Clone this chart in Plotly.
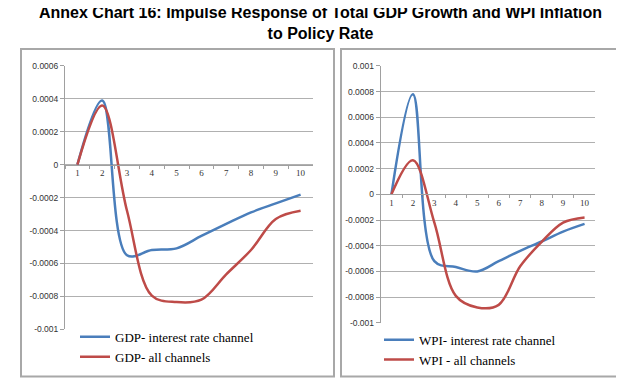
import plotly.graph_objects as go

periods = ["1", "2", "3", "4", "5", "6", "7", "8", "9", "10"]

gdp_interest = [0, 0.00039, -0.00055, -0.000518, -0.000508, -0.000433, -0.00036, -0.00029, -0.000235, -0.000182]
gdp_all = [0, 0.00036, -0.00028, -0.000795, -0.000834, -0.00082, -0.000666, -0.000518, -0.00033, -0.00028]

wpi_interest = [0, 0.00078, -0.00052, -0.000565, -0.0006, -0.00052, -0.00044, -0.000367, -0.00029, -0.00023]
wpi_all = [0, 0.000266, -0.00022, -0.00079, -0.00088, -0.00086, -0.00056, -0.00037, -0.00022, -0.00018]

gdp_yticks = [0.0006, 0.0004, 0.0002, 0, -0.0002, -0.0004, -0.0006, -0.0008, -0.001]
gdp_ylabels = ["0.0006", "0.0004", "0.0002", "0", "-0.0002", "-0.0004", "-0.0006", "-0.0008", "-0.001"]
wpi_yticks = [0.001, 0.0008, 0.0006, 0.0004, 0.0002, 0, -0.0002, -0.0004, -0.0006, -0.0008, -0.001]
wpi_ylabels = ["0.001", "0.0008", "0.0006", "0.0004", "0.0002", "0", "-0.0002", "-0.0004", "-0.0006", "-0.0008", "-0.001"]

title_text = "<b>Annex Chart 16: Impulse Response of Total GDP Growth and WPI Inflation<br>to Policy Rate</b>"

BLUE = "#4a7ebb"
RED = "#be4b48"
W, H = 624, 389

def px(x):
    return x / W

def py(y):
    return 1 - y / H

fig = go.Figure()
fig.add_trace(go.Scatter(x=periods, y=gdp_interest, name="GDP- interest rate channel",
                         mode="lines", line=dict(color=BLUE, width=2.5, shape="spline", smoothing=1),
                         xaxis="x", yaxis="y", legend="legend"))
fig.add_trace(go.Scatter(x=periods, y=gdp_all, name="GDP- all channels",
                         mode="lines", line=dict(color=RED, width=2.5, shape="spline", smoothing=1),
                         xaxis="x", yaxis="y", legend="legend"))
fig.add_trace(go.Scatter(x=periods, y=wpi_interest, name="WPI- interest rate channel",
                         mode="lines", line=dict(color=BLUE, width=2.5, shape="spline", smoothing=1),
                         xaxis="x2", yaxis="y2", legend="legend2"))
fig.add_trace(go.Scatter(x=periods, y=wpi_all, name="WPI - all channels",
                         mode="lines", line=dict(color=RED, width=2.5, shape="spline", smoothing=1),
                         xaxis="x2", yaxis="y2", legend="legend2"))

# Domains
ly0, ly1 = py(324.7), py(54.3)
ry0, ry1 = py(318), py(54.3)
lrange = [-0.001, 0.0006]
rrange = [-0.001, 0.001]
lzero = ly0 + (0 - lrange[0]) / (lrange[1] - lrange[0]) * (ly1 - ly0)
rzero = ry0 + (0 - rrange[0]) / (rrange[1] - rrange[0]) * (ry1 - ry0)

tickfont_x = dict(family="Liberation Serif", size=9, color="#333")
tickfont_y = dict(family="Liberation Sans", size=8.5, color="#333")

xcommon = dict(type="category", showgrid=False, showline=True, linecolor="#a0a0a0", linewidth=1,
               ticks="outside", ticklen=3, tickcolor="#a0a0a0", tickson="boundaries",
               tickfont=tickfont_x, anchor="free", fixedrange=True, zeroline=False,
               range=[-0.5, 9.5])
ycommon = dict(showgrid=True, gridcolor="#b0b0b0", gridwidth=1, showline=True, linecolor="#a0a0a0",
               ticks="outside", ticklen=4, tickcolor="#a0a0a0", tickfont=tickfont_y, zeroline=False,
               fixedrange=True)

fig.update_layout(
    width=W, height=H, margin=dict(l=0, r=0, t=0, b=0),
    paper_bgcolor="white", plot_bgcolor="white",
    xaxis=dict(domain=[px(57), px(305)], position=lzero, **xcommon),
    yaxis=dict(domain=[ly0, ly1], range=lrange, tickvals=gdp_yticks, ticktext=gdp_ylabels, anchor="x", **ycommon),
    xaxis2=dict(domain=[px(372.7), px(587.3)], position=rzero, **xcommon),
    yaxis2=dict(domain=[ry0, ry1], range=rrange, tickvals=wpi_yticks, ticktext=wpi_ylabels, anchor="x2", **ycommon),
    legend=dict(x=px(67), y=py(317), xanchor="left", yanchor="top", bgcolor="rgba(0,0,0,0)",
                font=dict(family="Liberation Serif", size=13, color="black"), itemwidth=30,
                tracegroupgap=0),
    legend2=dict(x=px(371), y=py(320), xanchor="left", yanchor="top", bgcolor="rgba(0,0,0,0)",
                 font=dict(family="Liberation Serif", size=13, color="black"), itemwidth=30,
                 tracegroupgap=0),
    annotations=[
        dict(text=title_text, xref="paper", yref="paper", x=0.5, xanchor="center",
             y=py(-10), yanchor="top", showarrow=False, borderpad=0,
             font=dict(family="Liberation Sans", size=16, color="black")),
    ],
    shapes=[
        dict(type="rect", xref="paper", yref="paper", x0=px(13), x1=px(326), y0=py(373), y1=py(37),
             line=dict(color="#a8a8a8", width=2)),
        dict(type="rect", xref="paper", yref="paper", x0=px(333), x1=px(611), y0=py(373), y1=py(37),
             line=dict(color="#a8a8a8", width=2)),
    ],
)

fig.write_html("out.html")
